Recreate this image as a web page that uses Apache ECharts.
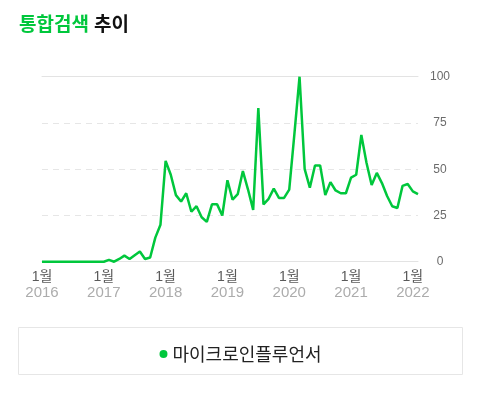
<!DOCTYPE html>
<html>
<head>
<meta charset="utf-8">
<script src="https://cdn.jsdelivr.net/npm/echarts@6/dist/echarts.min.js"></script>
<style>
html,body{margin:0;padding:0;background:#fff;}
#chart{width:481px;height:393px;}
</style>
</head>
<body>
<div id="chart"></div>
<script>
// ---- data ----
const titleGreen = '통합검색';
const titleBlack = '추이';
const seriesName = '마이크로인플루언서';
const months = [
  '2016-01','2016-02','2016-03','2016-04','2016-05','2016-06','2016-07','2016-08','2016-09','2016-10','2016-11','2016-12',
  '2017-01','2017-02','2017-03','2017-04','2017-05','2017-06','2017-07','2017-08','2017-09','2017-10','2017-11','2017-12',
  '2018-01','2018-02','2018-03','2018-04','2018-05','2018-06','2018-07','2018-08','2018-09','2018-10','2018-11','2018-12',
  '2019-01','2019-02','2019-03','2019-04','2019-05','2019-06','2019-07','2019-08','2019-09','2019-10','2019-11','2019-12',
  '2020-01','2020-02','2020-03','2020-04','2020-05','2020-06','2020-07','2020-08','2020-09','2020-10','2020-11','2020-12',
  '2021-01','2021-02','2021-03','2021-04','2021-05','2021-06','2021-07','2021-08','2021-09','2021-10','2021-11','2021-12',
  '2022-01','2022-02'
];
const values2016 = [0, 0, 0, 0, 0, 0, 0, 0, 0, 0, 0, 0];
const values2017 = [0, 1, 0, 1.5, 3.3, 1.5, 3.5, 5.5, 1.5, 2.3, 13, 20];
const values2018 = [54.5, 47, 36, 32.5, 37, 27, 30, 24, 21.5, 31, 31, 25];
const values2019 = [44, 33.5, 36.5, 49, 39, 28, 83, 31, 34, 39.5, 34.5, 34.5];
const values2020 = [39, 69, 100, 50, 40, 52, 52, 36, 43, 38.5, 37, 37];
const values2021 = [45.5, 47, 68.5, 53.5, 41.5, 48, 42.5, 35.5, 30, 29, 41, 42];
const values2022 = [38, 36.5];
const yTicks = [0, 25, 50, 75, 100];
const monthLabel = '1월';

const values = [].concat(values2016, values2017, values2018, values2019, values2020, values2021, values2022);

const GREEN = '#00c73c';
const chart = echarts.init(document.getElementById('chart'), null, {renderer: 'canvas'});
const KFONT = "'Noto Sans CJK KR', sans-serif";
const NFONT = "'Liberation Sans', 'Noto Sans CJK KR', sans-serif";

chart.setOption({
  animation: false,
  backgroundColor: '#fff',
  title: {
    left: 14,
    top: 9,
    text: '{g|' + titleGreen + '} {b|' + titleBlack + '}',
    textStyle: {
      rich: {
        g: {color: GREEN, fontSize: 19, fontWeight: 'bold', fontFamily: KFONT},
        b: {color: '#111', fontSize: 19, fontWeight: 'bold', fontFamily: KFONT}
      }
    }
  },
  graphic: [{
    type: 'rect',
    shape: {x: 18.5, y: 327.5, width: 444, height: 47},
    style: {fill: 'none', stroke: '#e6e6e6', lineWidth: 1},
    silent: true
  }],
  legend: {
    left: 'center',
    top: 340,
    icon: 'circle',
    itemWidth: 8,
    itemHeight: 8,
    itemGap: 10,
    textStyle: {fontSize: 18, color: '#222', fontFamily: KFONT, padding: [0, 0, 0, 0]},
    data: [seriesName]
  },
  grid: {left: 42, right: 63, top: 76.7, bottom: 131.3},
  xAxis: [{
    type: 'category',
    data: months,
    boundaryGap: false,
    axisLine: {show: true, lineStyle: {color: '#e3e3e3', width: 1}},
    axisTick: {show: false},
    splitLine: {show: false},
    axisLabel: {
      interval: function (idx) { return idx % 12 === 0; },
      margin: 7,
      formatter: function (v) {
        const parts = v.split('-');
        return '{m|' + monthLabel + '}\n{y|' + parts[0] + '}';
      },
      rich: {
        m: {fontSize: 14, color: '#5a5a5a', fontFamily: NFONT, lineHeight: 16},
        y: {fontSize: 15, color: '#acacac', fontFamily: NFONT, lineHeight: 16}
      }
    }
  }, {
    type: 'category',
    data: months,
    boundaryGap: false,
    position: 'top',
    axisLine: {show: true, lineStyle: {color: '#e3e3e3', width: 1}},
    axisTick: {show: false},
    axisLabel: {show: false},
    splitLine: {show: false}
  }],
  yAxis: {
    type: 'value',
    position: 'right',
    min: yTicks[0],
    max: yTicks[yTicks.length - 1],
    interval: yTicks[1] - yTicks[0],
    axisLine: {show: false},
    axisTick: {show: false},
    splitLine: {show: true, lineStyle: {color: '#e6e6e6', type: [6, 5], width: 1}},
    axisLabel: {
      margin: 22,
      align: 'center',
      fontSize: 12,
      color: '#6b6b6b',
      fontFamily: NFONT
    }
  },
  series: [{
    name: seriesName,
    type: 'line',
    data: values,
    symbol: 'none',
    lineStyle: {color: GREEN, width: 2.5},
    itemStyle: {color: GREEN},
    emphasis: {disabled: true}
  }]
});
</script>
</body>
</html>
